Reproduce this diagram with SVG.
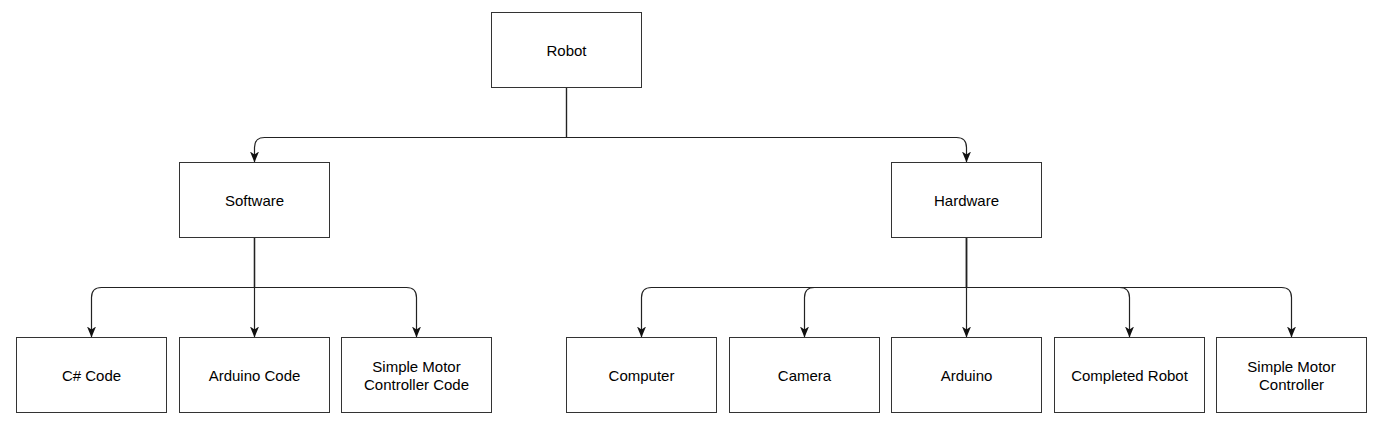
<svg xmlns="http://www.w3.org/2000/svg" width="1385" height="430" viewBox="0 0 1385 430">
<style>
.box{fill:#fff;stroke:#333;stroke-width:1}
.lbl{font-family:"Liberation Sans",Arial,sans-serif;font-size:15px;fill:#000;text-anchor:middle}
.edge{fill:none;stroke:#222;stroke-width:1.2}
</style>
<defs>
<marker id="arr" viewBox="0 0 11 10" refX="11" refY="5" markerWidth="11" markerHeight="10" markerUnits="userSpaceOnUse" orient="auto">
<path d="M0,0.5 L11,5 L0,9.5 L3,5 Z" fill="#111"/>
</marker>
</defs>
<rect width="1385" height="430" fill="#fff"/>
<g id="connectors">
<path class="edge" marker-end="url(#arr)" d="M566.5,87.5 V137.5 H264.5 Q254.5,137.5 254.5,147.5 V162.5"/>
<path class="edge" marker-end="url(#arr)" d="M566.5,87.5 V137.5 H956.5 Q966.5,137.5 966.5,147.5 V162.5"/>
<path class="edge" marker-end="url(#arr)" d="M254.5,237.5 V287.5 H101.5 Q91.5,287.5 91.5,297.5 V337.5"/>
<path class="edge" marker-end="url(#arr)" d="M254.5,237.5 V337.5"/>
<path class="edge" marker-end="url(#arr)" d="M254.5,237.5 V287.5 H406.5 Q416.5,287.5 416.5,297.5 V337.5"/>
<path class="edge" marker-end="url(#arr)" d="M966.5,237.5 V287.5 H651.5 Q641.5,287.5 641.5,297.5 V337.5"/>
<path class="edge" marker-end="url(#arr)" d="M966.5,237.5 V287.5 H814.5 Q804.5,287.5 804.5,297.5 V337.5"/>
<path class="edge" marker-end="url(#arr)" d="M966.5,237.5 V337.5"/>
<path class="edge" marker-end="url(#arr)" d="M966.5,237.5 V287.5 H1119.5 Q1129.5,287.5 1129.5,297.5 V337.5"/>
<path class="edge" marker-end="url(#arr)" d="M966.5,237.5 V287.5 H1281.5 Q1291.5,287.5 1291.5,297.5 V337.5"/>
</g>
<g id="robot"><rect class="box" x="491.5" y="12.5" width="150" height="75"/><text class="lbl" x="566.5" y="55.5">Robot</text></g>
<g id="software"><rect class="box" x="179.5" y="162.5" width="150" height="75"/><text class="lbl" x="254.5" y="205.5">Software</text></g>
<g id="hardware"><rect class="box" x="891.5" y="162.5" width="150" height="75"/><text class="lbl" x="966.5" y="205.5">Hardware</text></g>
<g id="csharp"><rect class="box" x="16.5" y="337.5" width="150" height="75"/><text class="lbl" x="91.5" y="380.5">C# Code</text></g>
<g id="arduinocode"><rect class="box" x="179.5" y="337.5" width="150" height="75"/><text class="lbl" x="254.5" y="380.5">Arduino Code</text></g>
<g id="smccode"><rect class="box" x="341.5" y="337.5" width="150" height="75"/><text class="lbl" x="416.5" y="371.5">Simple Motor</text><text class="lbl" x="416.5" y="389.5">Controller Code</text></g>
<g id="computer"><rect class="box" x="566.5" y="337.5" width="150" height="75"/><text class="lbl" x="641.5" y="380.5">Computer</text></g>
<g id="camera"><rect class="box" x="729.5" y="337.5" width="150" height="75"/><text class="lbl" x="804.5" y="380.5">Camera</text></g>
<g id="arduino"><rect class="box" x="891.5" y="337.5" width="150" height="75"/><text class="lbl" x="966.5" y="380.5">Arduino</text></g>
<g id="completed"><rect class="box" x="1054.5" y="337.5" width="150" height="75"/><text class="lbl" x="1129.5" y="380.5">Completed Robot</text></g>
<g id="smc"><rect class="box" x="1216.5" y="337.5" width="150" height="75"/><text class="lbl" x="1291.5" y="371.5">Simple Motor</text><text class="lbl" x="1291.5" y="389.5">Controller</text></g>
</svg>
